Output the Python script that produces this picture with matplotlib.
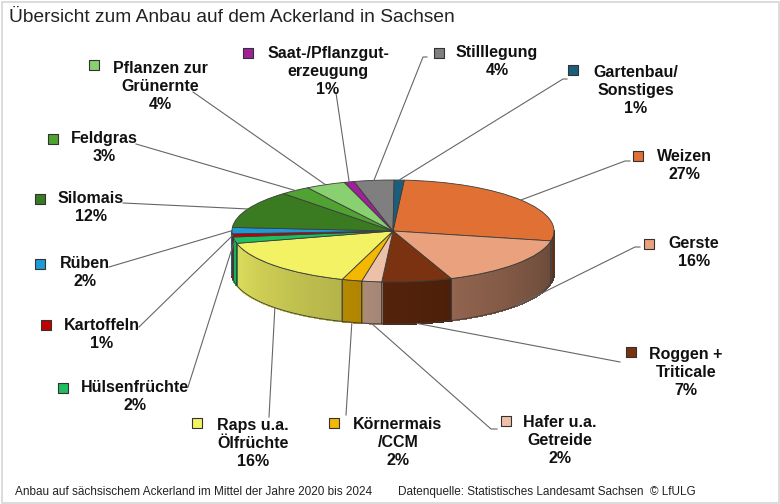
import numpy as np
import matplotlib.pyplot as plt
from matplotlib.patches import Wedge, Polygon, Rectangle
from matplotlib.transforms import Affine2D
from matplotlib.colors import to_rgb

plt.rcParams['font.family'] = ['Liberation Sans', 'DejaVu Sans']

# Anteile am Ackerland (Prozent), im Uhrzeigersinn ab Weizen
kulturen = ['Weizen', 'Gerste', 'Roggen +\nTriticale', 'Hafer u.a.\nGetreide',
            'Körnermais\n/CCM', 'Raps u.a.\nÖlfrüchte', 'Hülsenfrüchte', 'Kartoffeln',
            'Rüben', 'Silomais', 'Feldgras', 'Pflanzen zur\nGrünernte',
            'Saat-/Pflanzgut-\nerzeugung', 'Stilllegung', 'Gartenbau/\nSonstiges']
anteile = [27, 16, 7, 2, 2, 16, 2, 1, 2, 12, 3, 4, 1, 4, 1]
farben = ['#E07033', '#E9A17E', '#7A3210', '#EDC0A8', '#F5B800', '#F2F264',
          '#1FBE5E', '#C00000', '#1E9AD8', '#3A7A20', '#50A232', '#88D070',
          '#A0209A', '#7F7F7F', '#1A5E7C']

# Lage der Beschriftungen (Textmitte erste Zeile) und der Kästchen
text_pos = [(684, 157), (694, 244), (686, 355), (560, 423), (398, 425), (253, 426),
            (135, 388), (102, 326), (85, 264), (91, 199), (104, 139), (160, 69),
            (328, 54), (497, 53), (636, 73)]
marker_pos = [(638, 156), (649, 244), (631, 352), (506, 421), (334, 423), (197, 423),
              (63, 388), (46, 325), (40, 264), (40, 199), (53, 139), (94, 65),
              (248, 53), (439, 53), (573, 70)]
# Endpunkte der Führungslinien an der Beschriftung
linien_ende = [[(625, 161), (630, 161)], [(635, 247), (640, 247)], [(620, 362)],
               [(491, 429), (497, 429)], [(346, 415)], [(269, 417)], [(188, 387)],
               [(139, 327)], [(109, 267)], [(123, 203)], [(136, 144)], [(193, 92)],
               [(336, 93)], [(423, 57), (427, 57)], [(563, 79), (567, 79)]]

fig = plt.figure(figsize=(7.8, 5.04), dpi=100)
ax = fig.add_axes([0, 0, 1, 1])
ax.set_xlim(0, 780)
ax.set_ylim(504, 0)
ax.axis('off')

cx, cy, rx, ry, tiefe = 393, 231, 161, 51, 42
start = 86
kante = '#3C3C3C'

werte = np.array(anteile, dtype=float)
cum = np.concatenate([[0], np.cumsum(werte)]) / werte.sum()
winkel = start - 360 * cum


def punkt(a, dz=0.0):
    r = np.radians(a)
    return cx + rx * np.cos(r), cy - ry * np.sin(r) + dz


def licht(a):
    t = min(max(-a / 180.0, 0), 1)
    return 0.42 + 0.53 * t


# Seitenflächen (nur vordere Hälfte sichtbar)
for i, farbe in enumerate(farben):
    a0, a1 = winkel[i], winkel[i + 1]
    lo, hi = max(a1, -180), min(a0, 0)
    if lo >= hi:
        continue
    rgb = np.array(to_rgb(farbe))
    steps = np.linspace(hi, lo, max(int((hi - lo) * 2), 2))
    for s0, s1 in zip(steps[:-1], steps[1:]):
        f = licht((s0 + s1) / 2)
        c = np.clip(rgb * f, 0, 1)
        ax.add_patch(Polygon([punkt(s0), punkt(s1), punkt(s1, tiefe), punkt(s0, tiefe)],
                             closed=True, facecolor=c, edgecolor=c, lw=0.8,
                             antialiased=False, zorder=1))
    bogen = np.linspace(hi, lo, 60)
    oben = [punkt(a) for a in bogen]
    unten = [punkt(a, tiefe) for a in bogen[::-1]]
    ax.add_patch(Polygon(oben + unten, closed=True, facecolor='none',
                         edgecolor=kante, lw=0.6, zorder=2))

# Deckfläche
tr = Affine2D().scale(rx, -ry).translate(cx, cy) + ax.transData
for i, farbe in enumerate(farben):
    w = Wedge((0, 0), 1, winkel[i + 1], winkel[i], facecolor=farbe,
              edgecolor=kante, lw=0.6, zorder=3)
    w.set_transform(tr)
    ax.add_patch(w)

# Führungslinien, Kästchen und Beschriftungen
for i, name in enumerate(kulturen):
    mitte = (winkel[i] + winkel[i + 1]) / 2
    dz = tiefe if np.sin(np.radians(mitte)) < -0.3 else 0
    px, py = punkt(mitte, dz)
    pts = [(px, py)] + linien_ende[i]
    ax.plot([p[0] for p in pts], [p[1] for p in pts], color='#666666', lw=0.8, zorder=4)
    mx, my = marker_pos[i]
    ax.scatter(mx, my, marker='s', s=42, color=farben[i], edgecolors='#333333',
               linewidths=0.8, zorder=5)
    tx, ty = text_pos[i]
    ax.text(tx, ty - 8, f'{name}\n{anteile[i]}%', ha='center', va='top',
            fontsize=11.5, fontweight='bold', color='#111111', linespacing=1.27, zorder=5)

ax.text(9, 18, 'Übersicht zum Anbau auf dem Ackerland in Sachsen', ha='left',
        va='center', fontsize=13.8, color='#222222')
ax.text(15, 492, 'Anbau auf sächsischem Ackerland im Mittel der Jahre 2020 bis 2024',
        ha='left', va='center', fontsize=8.5, color='#222222')
ax.text(398, 492, 'Datenquelle: Statistisches Landesamt Sachsen  © LfULG',
        ha='left', va='center', fontsize=8.5, color='#222222')

ax.add_patch(Rectangle((1.5, 1.5), 777, 501, facecolor='none', edgecolor='#D6D6D6', lw=1.2))

fig.savefig('out.png', dpi=100)
